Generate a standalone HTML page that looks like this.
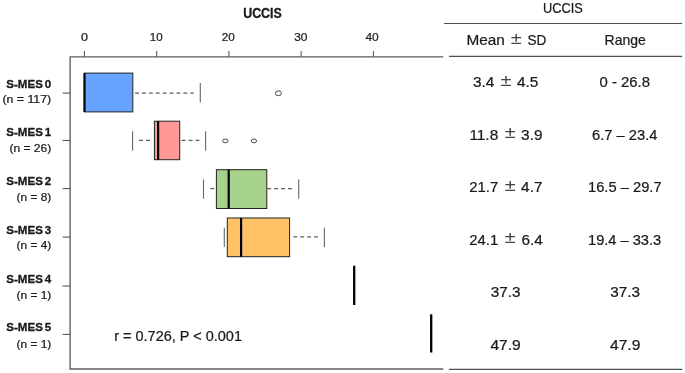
<!DOCTYPE html>
<html lang="en"><head><meta charset="utf-8"><title>UCCIS by S-MES</title>
<style>html,body{margin:0;padding:0;background:#fff}svg{display:block}text{font-family:"Liberation Sans",Arial,sans-serif;fill:#1a1a1a;stroke:#1a1a1a;stroke-width:.22px}.pm{stroke:none;fill:#444}.l{word-spacing:-1.1px}.b{font-weight:700;stroke-width:.3px}</style>
</head><body>
<svg width="685" height="373" viewBox="0 0 685 373">
<rect width="685" height="373" fill="#fff"/>
<g stroke="#5e5e5e" stroke-width="1.35" fill="none">
<path d="M70.1 369V56.85H443.3"/>
<path d="M69.43 369H443.3"/>
</g>
<g stroke="#4c4c4c" stroke-width="1" fill="none">
<path d="M84.45 51V56.85"/>
<path d="M156.69 51V56.85"/>
<path d="M228.93 51V56.85"/>
<path d="M301.17 51V56.85"/>
<path d="M373.41 51V56.85"/>
<path d="M62.6 93.10H70.1"/>
<path d="M62.6 140.45H70.1"/>
<path d="M62.6 188.60H70.1"/>
<path d="M62.6 237.10H70.1"/>
<path d="M62.6 286.05H70.1"/>
<path d="M62.6 334.40H70.1"/>
</g>
<g stroke="#505050" stroke-width="1.2" fill="none">
<path d="M444 23.5H682.2"/>
<path d="M449 56.4H682.2"/>
<path d="M449 369.45H682.2"/>
</g>
<path d="M135.1 93.10H193.8" stroke="#5e5e5e" stroke-width="1.3" stroke-dasharray="3.9 3" fill="none"/>
<path d="M200.3 83.0V102.5" stroke="#666" stroke-width="1.1" fill="none"/>
<rect x="84.4" y="73.1" width="48.4" height="38.8" fill="#66a3ff" stroke="#222" stroke-width="1"/>
<path d="M84.5 73.1V111.9" stroke="#000" stroke-width="2.2" fill="none"/>
<ellipse cx="278.4" cy="93.3" rx="3.0" ry="2.4" fill="none" stroke="#484848" stroke-width="1"/>
<path d="M132.6 131.2V150.8" stroke="#666" stroke-width="1.1" fill="none"/>
<path d="M139.1 140.40H150.4" stroke="#5e5e5e" stroke-width="1.3" stroke-dasharray="3.9 3" fill="none"/>
<path d="M181.7 140.40H200.2" stroke="#5e5e5e" stroke-width="1.3" stroke-dasharray="3.9 3" fill="none"/>
<path d="M205.6 131.2V150.8" stroke="#666" stroke-width="1.1" fill="none"/>
<rect x="154.4" y="121.2" width="25.3" height="38.5" fill="#fe9997" stroke="#222" stroke-width="1"/>
<path d="M158.1 121.2V159.7" stroke="#000" stroke-width="2.2" fill="none"/>
<ellipse cx="225.3" cy="140.9" rx="2.7" ry="1.9" fill="none" stroke="#484848" stroke-width="1"/>
<ellipse cx="253.9" cy="140.9" rx="2.7" ry="1.9" fill="none" stroke="#484848" stroke-width="1"/>
<path d="M203.5 179.5V198.8" stroke="#666" stroke-width="1.1" fill="none"/>
<path d="M210.4 188.55H214.3" stroke="#5e5e5e" stroke-width="1.3" stroke-dasharray="3.9 3" fill="none"/>
<path d="M267.3 188.55H292.6" stroke="#5e5e5e" stroke-width="1.3" stroke-dasharray="3.9 3" fill="none"/>
<path d="M298.7 179.5V198.8" stroke="#666" stroke-width="1.1" fill="none"/>
<rect x="216.4" y="169.7" width="50.4" height="38.8" fill="#a6d28c" stroke="#222" stroke-width="1"/>
<path d="M228.7 169.7V208.5" stroke="#000" stroke-width="2.2" fill="none"/>
<path d="M224.3 227.7V247.0" stroke="#666" stroke-width="1.1" fill="none"/>
<path d="M293.3 236.90H318.3" stroke="#5e5e5e" stroke-width="1.3" stroke-dasharray="3.9 3" fill="none"/>
<path d="M324.4 227.7V247.0" stroke="#666" stroke-width="1.1" fill="none"/>
<rect x="227.3" y="218.0" width="62.3" height="38.7" fill="#ffc266" stroke="#222" stroke-width="1"/>
<path d="M241.1 218.0V256.7" stroke="#000" stroke-width="2.2" fill="none"/>
<path d="M354.2 265.7V305" stroke="#000" stroke-width="2.3" fill="none"/>
<path d="M431.2 314.3V352.5" stroke="#000" stroke-width="2.3" fill="none"/>
<text x="243.2" y="17.7" font-size="13.9" class="b" textLength="38.6" lengthAdjust="spacingAndGlyphs" xml:space="preserve">UCCIS</text>
<text x="81.1" y="40.9" font-size="11" textLength="7.0" lengthAdjust="spacingAndGlyphs" xml:space="preserve">0</text>
<text x="149.8" y="40.9" font-size="11" textLength="12.9" lengthAdjust="spacingAndGlyphs" xml:space="preserve">10</text>
<text x="221.8" y="40.9" font-size="11" textLength="13.1" lengthAdjust="spacingAndGlyphs" xml:space="preserve">20</text>
<text x="294.2" y="40.9" font-size="11" textLength="13.3" lengthAdjust="spacingAndGlyphs" xml:space="preserve">30</text>
<text x="365.4" y="40.9" font-size="11" textLength="13.3" lengthAdjust="spacingAndGlyphs" xml:space="preserve">40</text>
<text x="6.3" y="87.6" font-size="11" class="b l" textLength="45.0" lengthAdjust="spacingAndGlyphs" xml:space="preserve">S-MES 0</text>
<text x="2.4" y="102.9" font-size="10.2" textLength="48.8" lengthAdjust="spacingAndGlyphs" xml:space="preserve">(n = 117)</text>
<text x="6.3" y="136.1" font-size="11" class="b l" textLength="45.0" lengthAdjust="spacingAndGlyphs" xml:space="preserve">S-MES 1</text>
<text x="9.4" y="151.6" font-size="10.2" textLength="41.8" lengthAdjust="spacingAndGlyphs" xml:space="preserve">(n = 26)</text>
<text x="6.3" y="184.6" font-size="11" class="b l" textLength="45.0" lengthAdjust="spacingAndGlyphs" xml:space="preserve">S-MES 2</text>
<text x="16.6" y="200.5" font-size="10.2" textLength="34.6" lengthAdjust="spacingAndGlyphs" xml:space="preserve">(n = 8)</text>
<text x="6.3" y="233.6" font-size="11" class="b l" textLength="45.0" lengthAdjust="spacingAndGlyphs" xml:space="preserve">S-MES 3</text>
<text x="16.6" y="249.3" font-size="10.2" textLength="34.6" lengthAdjust="spacingAndGlyphs" xml:space="preserve">(n = 4)</text>
<text x="6.3" y="282.5" font-size="11" class="b l" textLength="45.0" lengthAdjust="spacingAndGlyphs" xml:space="preserve">S-MES 4</text>
<text x="16.6" y="299.0" font-size="10.2" textLength="34.6" lengthAdjust="spacingAndGlyphs" xml:space="preserve">(n = 1)</text>
<text x="6.3" y="331.2" font-size="11" class="b l" textLength="45.0" lengthAdjust="spacingAndGlyphs" xml:space="preserve">S-MES 5</text>
<text x="16.6" y="347.6" font-size="10.2" textLength="34.6" lengthAdjust="spacingAndGlyphs" xml:space="preserve">(n = 1)</text>
<text x="114.2" y="340.6" font-size="14.3" textLength="127.8" lengthAdjust="spacingAndGlyphs" xml:space="preserve">r = 0.726, P &lt; 0.001</text>
<text x="543.0" y="13.0" font-size="14.1" textLength="39.8" lengthAdjust="spacingAndGlyphs" xml:space="preserve">UCCIS</text>
<text x="466.5" y="44.6" font-size="14.1" textLength="38.4" lengthAdjust="spacingAndGlyphs" xml:space="preserve">Mean</text>
<text x="510.7" y="43.5" font-size="15.6" class="pm" textLength="10.9" lengthAdjust="spacingAndGlyphs" xml:space="preserve">±</text>
<text x="527.4" y="44.6" font-size="14.1" textLength="18.8" lengthAdjust="spacingAndGlyphs" xml:space="preserve">SD</text>
<text x="604.6" y="44.6" font-size="14.1" textLength="41.2" lengthAdjust="spacingAndGlyphs" xml:space="preserve">Range</text>
<text x="473.0" y="87.1" font-size="14.2" textLength="21.4" lengthAdjust="spacingAndGlyphs" xml:space="preserve">3.4</text>
<text x="500.4" y="85.8" font-size="15.6" class="pm" textLength="10.9" lengthAdjust="spacingAndGlyphs" xml:space="preserve">±</text>
<text x="517.0" y="87.1" font-size="14.2" textLength="21.4" lengthAdjust="spacingAndGlyphs" xml:space="preserve">4.5</text>
<text x="469.4" y="139.6" font-size="14.2" textLength="28.8" lengthAdjust="spacingAndGlyphs" xml:space="preserve">11.8</text>
<text x="504.8" y="138.3" font-size="15.6" class="pm" textLength="10.9" lengthAdjust="spacingAndGlyphs" xml:space="preserve">±</text>
<text x="521.1" y="139.6" font-size="14.2" textLength="21.4" lengthAdjust="spacingAndGlyphs" xml:space="preserve">3.9</text>
<text x="469.2" y="192.1" font-size="14.2" textLength="29.0" lengthAdjust="spacingAndGlyphs" xml:space="preserve">21.7</text>
<text x="504.8" y="190.8" font-size="15.6" class="pm" textLength="10.9" lengthAdjust="spacingAndGlyphs" xml:space="preserve">±</text>
<text x="521.1" y="192.1" font-size="14.2" textLength="21.4" lengthAdjust="spacingAndGlyphs" xml:space="preserve">4.7</text>
<text x="469.2" y="244.6" font-size="14.2" textLength="29.0" lengthAdjust="spacingAndGlyphs" xml:space="preserve">24.1</text>
<text x="504.8" y="243.3" font-size="15.6" class="pm" textLength="10.9" lengthAdjust="spacingAndGlyphs" xml:space="preserve">±</text>
<text x="521.4" y="244.6" font-size="14.2" textLength="21.4" lengthAdjust="spacingAndGlyphs" xml:space="preserve">6.4</text>
<text x="490.8" y="297.3" font-size="14.2" textLength="29.8" lengthAdjust="spacingAndGlyphs" xml:space="preserve">37.3</text>
<text x="490.4" y="349.6" font-size="14.2" textLength="30.4" lengthAdjust="spacingAndGlyphs" xml:space="preserve">47.9</text>
<text x="599.5" y="87.1" font-size="14.2" textLength="50.5" lengthAdjust="spacingAndGlyphs" xml:space="preserve">0 - 26.8</text>
<text x="592.0" y="139.6" font-size="14.2" textLength="65.4" lengthAdjust="spacingAndGlyphs" xml:space="preserve">6.7 – 23.4</text>
<text x="588.0" y="192.1" font-size="14.2" textLength="73.6" lengthAdjust="spacingAndGlyphs" xml:space="preserve">16.5 – 29.7</text>
<text x="588.0" y="244.6" font-size="14.2" textLength="73.2" lengthAdjust="spacingAndGlyphs" xml:space="preserve">19.4 – 33.3</text>
<text x="610.2" y="297.3" font-size="14.2" textLength="29.8" lengthAdjust="spacingAndGlyphs" xml:space="preserve">37.3</text>
<text x="610.0" y="349.6" font-size="14.2" textLength="30.4" lengthAdjust="spacingAndGlyphs" xml:space="preserve">47.9</text>
</svg>
</body></html>
